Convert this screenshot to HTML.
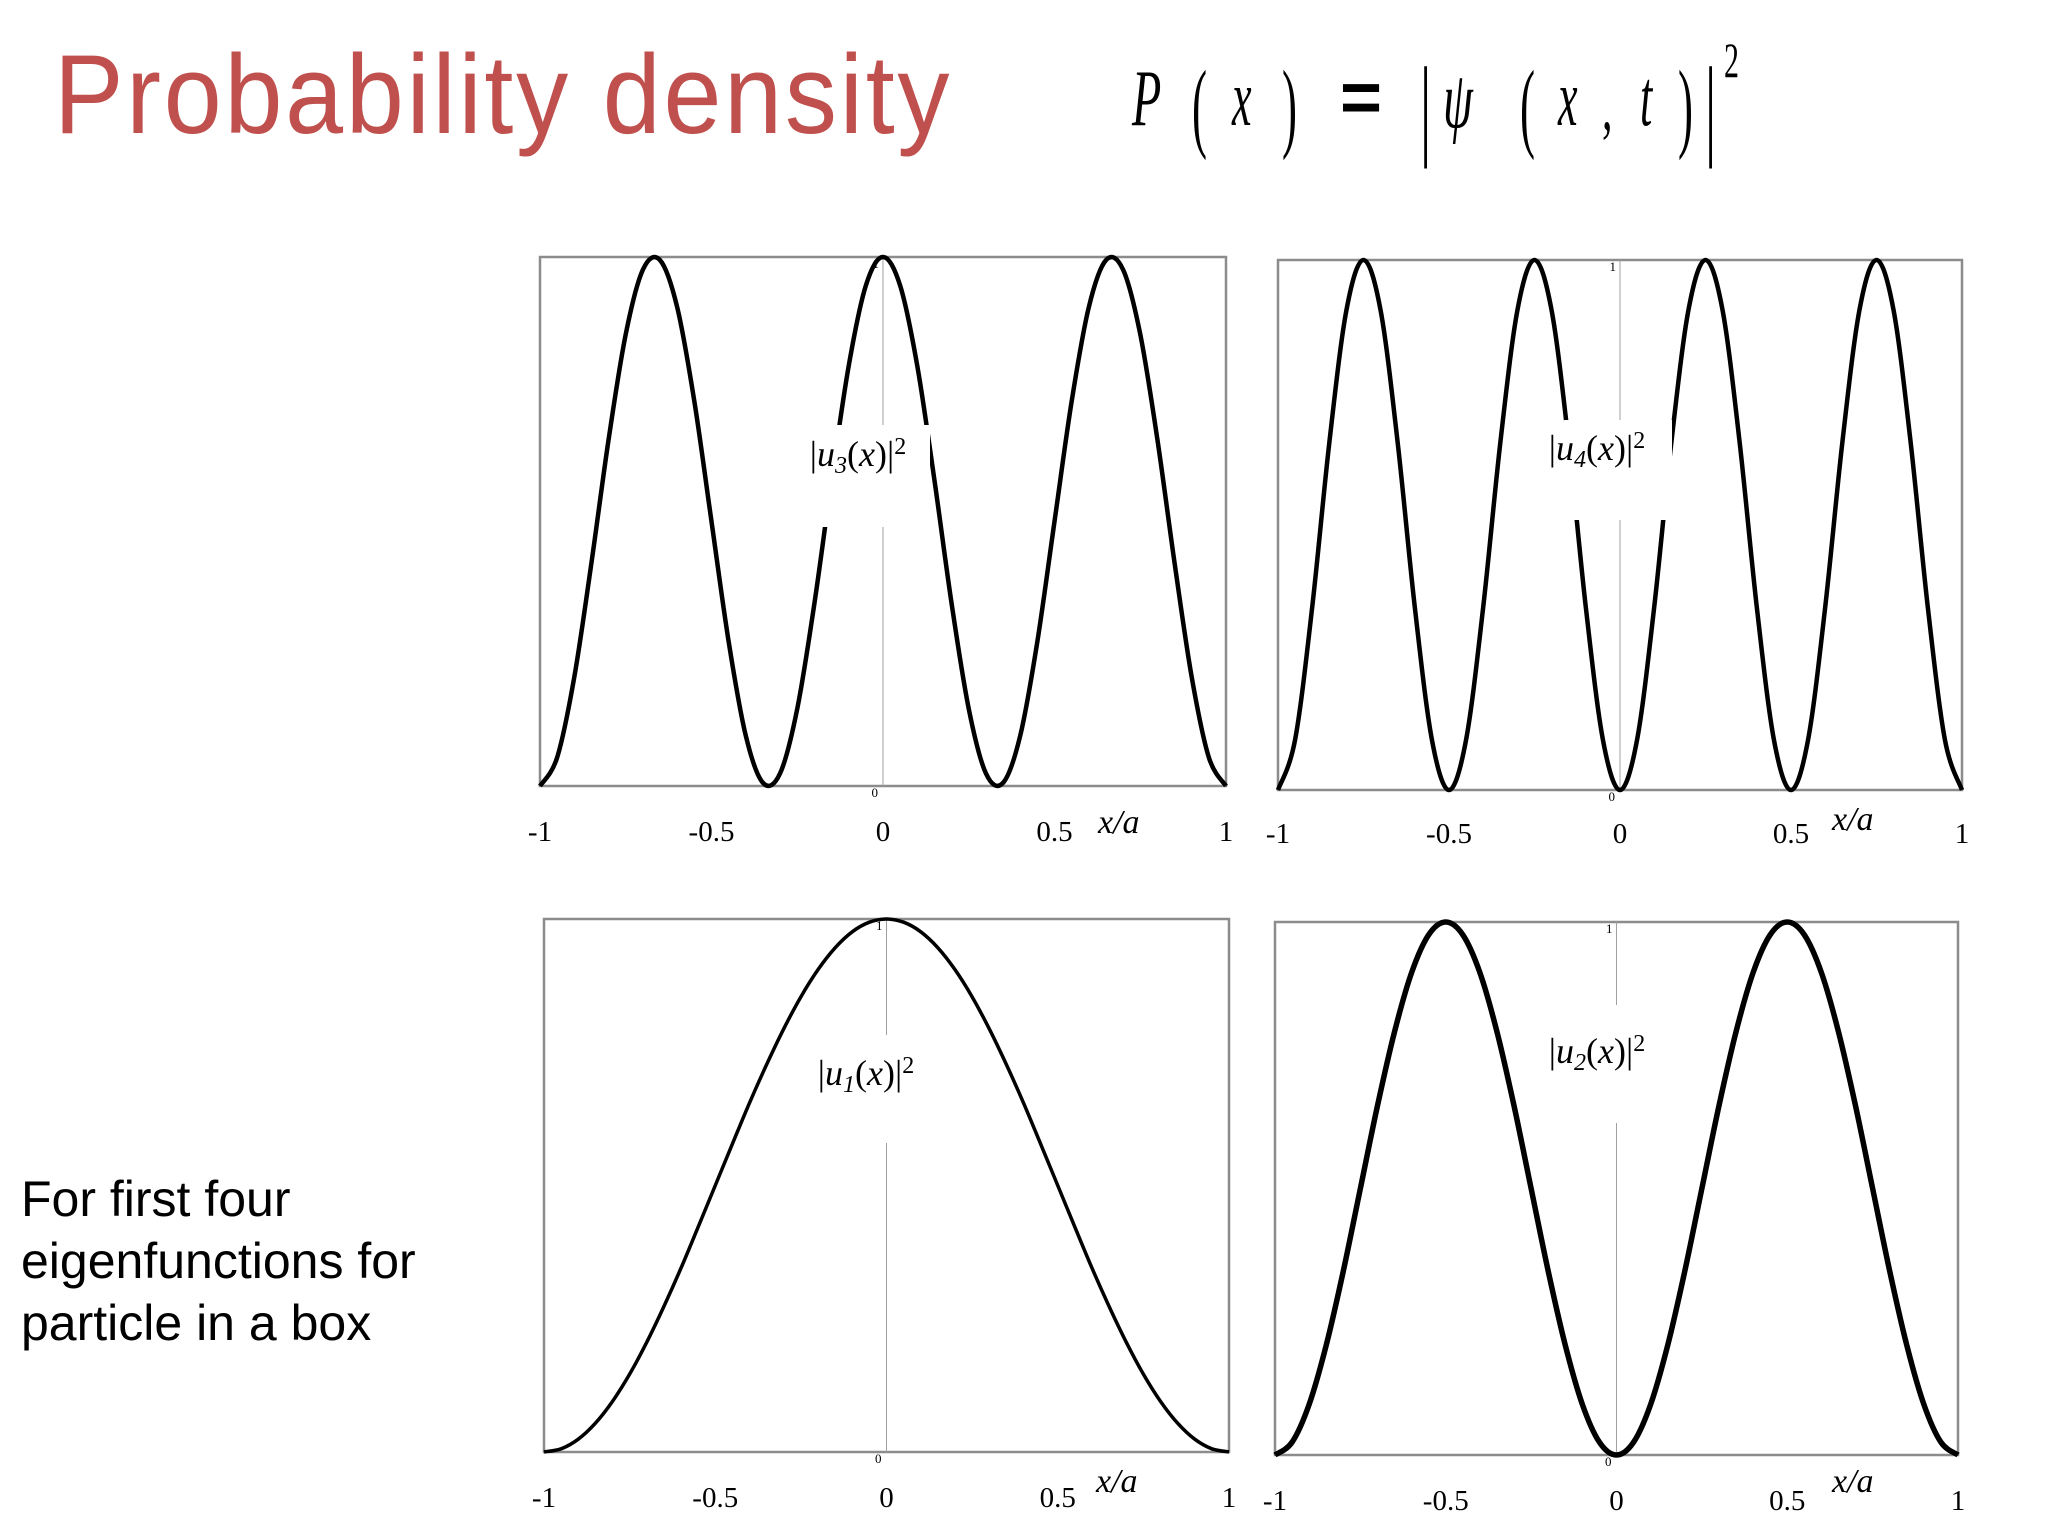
<!DOCTYPE html>
<html><head><meta charset="utf-8">
<style>
html,body{margin:0;padding:0;background:#fff;}
body{width:2048px;height:1536px;position:relative;overflow:hidden;font-family:"Liberation Sans",sans-serif;}
#title{position:absolute;left:54px;top:30px;font-size:112px;color:#c0504d;font-family:"Liberation Sans",sans-serif;letter-spacing:3px;transform:scaleX(0.93);transform-origin:left top;}
#note{position:absolute;left:21px;top:1168px;font-size:50px;line-height:62px;color:#000;}
svg{position:absolute;left:0;top:0;}
</style></head>
<body>
<div id="title">Probability density</div>
<div id="note">For first four<br>eigenfunctions for<br>particle in a box</div>
<svg id="svg" width="2048" height="1536">
<g id="formula" font-family="Liberation Serif, serif" fill="#000"></g>
</svg>
<script>
const xValues=[-1,-0.95,-0.9,-0.85,-0.8,-0.75,-0.7,-0.65,-0.6,-0.55,-0.5,-0.45,-0.4,-0.35,-0.3,-0.25,-0.2,-0.15,-0.1,-0.05,0,0.05,0.1,0.15,0.2,0.25,0.3,0.35,0.4,0.45,0.5,0.55,0.6,0.65,0.7,0.75,0.8,0.85,0.9,0.95,1];
const u1Values=[0,.006,.024,.054,.095,.146,.206,.273,.345,.422,.5,.578,.655,.727,.794,.854,.905,.946,.976,.994,1,.994,.976,.946,.905,.854,.794,.727,.655,.578,.5,.422,.345,.273,.206,.146,.095,.054,.024,.006,0];
const u2Values=[0,.024,.095,.206,.345,.5,.655,.794,.905,.976,1,.976,.905,.794,.655,.5,.345,.206,.095,.024,0,.024,.095,.206,.345,.5,.655,.794,.905,.976,1,.976,.905,.794,.655,.5,.345,.206,.095,.024,0];
const u3Values=[0,.054,.206,.422,.655,.854,.976,.994,.905,.727,.5,.273,.095,.006,.024,.146,.345,.578,.794,.946,1,.946,.794,.578,.345,.146,.024,.006,.095,.273,.5,.727,.905,.994,.976,.854,.655,.422,.206,.054,0];
const u4Values=[0,.095,.345,.655,.905,1,.905,.655,.345,.095,0,.095,.345,.655,.905,1,.905,.655,.345,.095,0,.095,.345,.655,.905,1,.905,.655,.345,.095,0,.095,.345,.655,.905,1,.905,.655,.345,.095,0];
const xTickValues=[-1,-0.5,0,0.5,1];
const xTickLabels=["-1","-0.5","0","0.5","1"];

const NS="http://www.w3.org/2000/svg";
const svg=document.getElementById('svg');
function mk(tag,attrs,parent){const e=document.createElementNS(NS,tag);for(const k in attrs)e.setAttribute(k,attrs[k]);(parent||svg).appendChild(e);return e;}

const panels=[
 {name:'u3',vals:u3Values,box:[540,257,1226,786],sw:4.5,lab:[858,466],sub:'3',tickY:841,xa:[1098,833],gap:[822,425,108,102]},
 {name:'u4',vals:u4Values,box:[1278,260,1962,790],sw:4.5,lab:[1597,460],sub:'4',tickY:843,xa:[1832,830],gap:[1564,420,108,100]},
 {name:'u1',vals:u1Values,box:[544,919,1229,1452],sw:3.5,lab:[866,1085],sub:'1',tickY:1507,xa:[1096,1492],gap:[814,1035,110,108]},
 {name:'u2',vals:u2Values,box:[1275,922,1958,1455],sw:5.5,lab:[1597,1063],sub:'2',tickY:1510,xa:[1832,1492],gap:[1542,1005,108,118]}
];

panels.forEach(p=>{
 const [x0,y0,x1,y1]=p.box;
 const g=mk('g',{});
 
 
 const sx=v=>x0+(v+1)/2*(x1-x0);
 const sy=v=>y1-v*(y1-y0);
 const frame=mk('rect',{x:x0,y:y0,width:x1-x0,height:y1-y0,fill:'none',stroke:'#8c8c8c','stroke-width':2.5},g);
 
 
 const ax=mk('line',{x1:sx(0),x2:sx(0),y1:y0,y2:y1,stroke:'#a0a0a0','stroke-width':1},g);
 
 
 const t1=mk('text',{x:sx(0)-4,y:y0+11,'font-size':13,'text-anchor':'end','font-family':'Liberation Serif, serif'},g);
 t1.textContent='1';
 
 
 const t0=mk('text',{x:sx(0)-5,y:y1+11,'font-size':13,'text-anchor':'end','font-family':'Liberation Serif, serif'},g);
 t0.textContent='0';
 
 
 const pts=xValues.map((x,i)=>[sx(x),sy(p.vals[i])]);
 let d='M'+pts[0][0]+','+pts[0][1];
 for(let i=0;i<pts.length-1;i++){
  const a=pts[Math.max(i-1,0)],b=pts[i],c=pts[i+1],e=pts[Math.min(i+2,pts.length-1)];
  d+=' C'+(b[0]+(c[0]-a[0])/6)+','+(b[1]+(c[1]-a[1])/6)+' '+(c[0]-(e[0]-b[0])/6)+','+(c[1]-(e[1]-b[1])/6)+' '+c[0]+','+c[1];
 }
 const path=mk('path',{d:d,fill:'none',stroke:'#000','stroke-width':p.sw,'stroke-linejoin':'round'},g);
 
 
 const gap=mk('rect',{x:p.gap[0],y:p.gap[1],width:p.gap[2],height:p.gap[3],fill:'#fff'},g);
 
 
 const lab=mk('text',{x:p.lab[0],y:p.lab[1],'font-size':36,'text-anchor':'middle','font-family':'Liberation Serif, serif'},g);
 
 
 lab.innerHTML='|<tspan font-style="italic">u</tspan><tspan font-style="italic" font-size="24" dy="7">'+p.sub+'</tspan><tspan dy="-7">(</tspan><tspan font-style="italic">x</tspan>)|<tspan font-size="24" dy="-12">2</tspan>';
 xTickValues.forEach((v,i)=>{
  const t=mk('text',{x:sx(v),y:p.tickY,'font-size':29,'text-anchor':'middle','font-family':'Liberation Serif, serif'},g);
  t.textContent=xTickLabels[i];
  
  
 });
 const xa=mk('text',{x:p.xa[0],y:p.xa[1],'font-size':34,'font-style':'italic','font-family':'Liberation Serif, serif'},g);
 xa.textContent='x/a';
 
 
});

const F=document.getElementById('formula');
const glyphs=[['P',1132,125,80,.6,'italic'],['(',1192,139,100,.45,''],['x',1232,125,80,.55,'italic'],[')',1282,139,100,.45,''],
['|',1420,144,112,.5,''],['ψ',1443,127,80,.6,'italic'],['(',1520,139,100,.45,''],['x',1558,125,80,.55,'italic'],[',',1602,129,70,.6,''],
['t',1640,125,80,.55,'italic'],[')',1678,139,100,.45,''],['|',1705,144,112,.5,''],['2',1724,77,50,.6,'']];
glyphs.forEach(g=>{
 const t=mk('text',{transform:'translate('+g[1]+','+g[2]+') scale('+g[4]+',1)','font-size':g[3],'font-style':g[5]||'normal'},F);
 t.textContent=g[0];
 
 
});
const eq=mk('text',{x:1340,y:122,'font-size':72,'font-weight':'bold','font-family':'Liberation Sans, sans-serif'},F);
eq.textContent='=';


</script>
</body></html>
